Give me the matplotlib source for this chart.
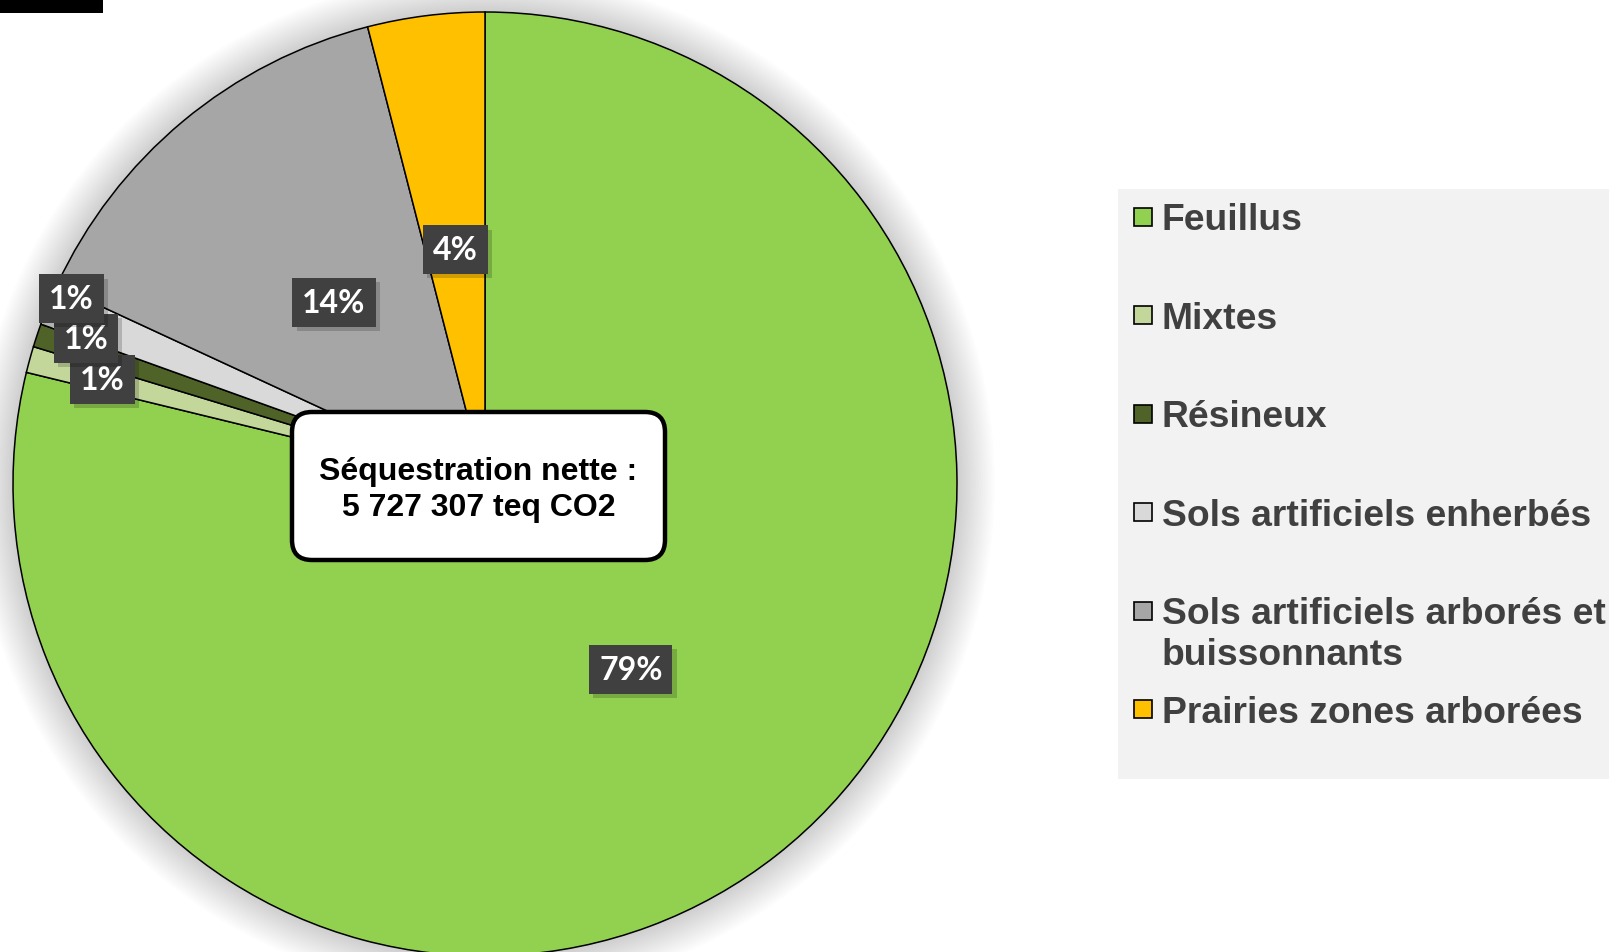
import numpy as np
import matplotlib.pyplot as plt
from matplotlib.patches import Rectangle, Circle, FancyBboxPatch
from matplotlib import patheffects

# data (share of net sequestration, %)
categories = ['Feuillus', 'Mixtes', 'Résineux', 'Sols artificiels enherbés',
              'Sols artificiels arborés et\nbuissonnants', 'Prairies zones arborées']
shares = [78.8, 0.9, 0.8, 1.4, 14.1, 4.0]
colors = ['#92D050', '#C4D79B', '#4F6228', '#D9D9D9', '#A6A6A6', '#FFC000']
total_label = 'Séquestration nette :\n5 727 307 teq CO2'

# where the % labels sit (fraction of radius), small slices pushed out like excel does
label_r = [0.5, 0.84, 0.9, 0.96, 0.5, 0.5]
label_dang = [0, 0, -1.7, -1.8, 0, 0]

W, H = 1609, 953
fig = plt.figure(figsize=(W / 100, H / 100), dpi=100)

# pie axes, centre (485, 485) px, radius 472 px
cx, cy, R = 485, 485, 472
half = 1.1 * R
ax = fig.add_axes([(cx - half) / W, (H - cy - half) / H, 2 * half / W, 2 * half / H])

# soft glow around the pie
for k in range(16):
    ax.add_patch(Circle((0, 0), 1 + 0.005 * (k + 1), fc='black', ec='none',
                        alpha=0.011, zorder=0, clip_on=False))

wedges, _ = ax.pie(shares, colors=colors, startangle=90, counterclock=False, radius=1,
                   wedgeprops=dict(edgecolor='black', linewidth=1.1))
ax.set_xlim(-1.1, 1.1)
ax.set_ylim(-1.1, 1.1)
ax.set_aspect('equal')

# percentage labels in dark boxes
for i, w in enumerate(wedges):
    ang = np.deg2rad((w.theta1 + w.theta2) / 2 + label_dang[i])
    r = label_r[i]
    t = ax.text(r * np.cos(ang), r * np.sin(ang), f'{shares[i]:.0f}%',
                ha='center', va='center', color='white', fontsize=23,
                fontweight='bold', family='Lato', zorder=5,
                bbox=dict(boxstyle='square,pad=0.31', fc='#404040', ec='none'))
    t.get_bbox_patch().set_path_effects([
        patheffects.SimplePatchShadow(offset=(3, -3), shadow_rgbFace='black', alpha=0.18),
        patheffects.Normal()])

# overlay axes in pixel coords for legend and decorations (drawn above the pie)
lax = fig.add_axes([0, 0, 1, 1])
lax.set_xlim(0, W)
lax.set_ylim(H, 0)
lax.axis('off')

# total in the middle
lax.add_patch(FancyBboxPatch((292, 413), 373, 148, boxstyle='round,pad=0,rounding_size=20',
                             fc='white', ec='black', lw=3.2))
lax.text(478.5, 490, total_label, ha='center', va='center', fontsize=23,
         fontweight='bold', family='Liberation Sans', linespacing=1.22)

# small black bar top left
lax.add_patch(Rectangle((0, 0), 103, 14, fc='black', ec='none'))

# legend drawn by hand so the two-line entry keeps the row spacing
lax.add_patch(Rectangle((1118, 190), W - 1118, 590, fc='#F2F2F2', ec='none'))
y0, step = 217.5, 98.5
for i, lab in enumerate(categories):
    y = y0 + i * step
    lax.add_patch(Rectangle((1134, y - 9), 18, 18, fc=colors[i], ec='black', lw=1.2))
    lax.text(1162, y - 14, lab, ha='left', va='top', fontsize=26.8, fontweight='bold',
             family='Liberation Sans', color='#404040')

fig.savefig('out.png', dpi=100)
